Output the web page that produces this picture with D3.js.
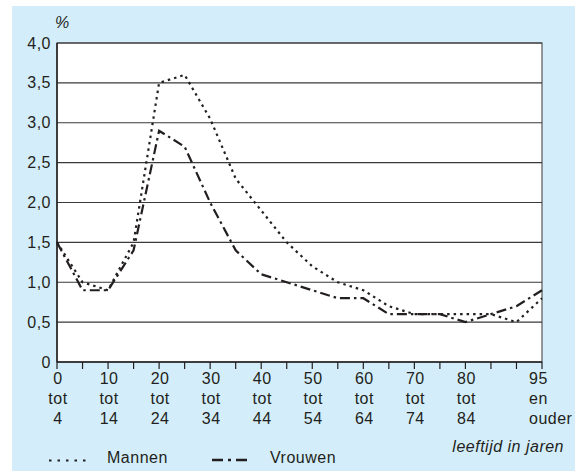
<!DOCTYPE html>
<html>
<head>
<meta charset="utf-8">
<script src="https://cdn.jsdelivr.net/npm/d3@7"></script>
<style>
  body { margin: 0; background: #fff; }
  text { font-family: "Liberation Sans", Arial, sans-serif; fill: #231f20; letter-spacing: 0.5px; }
</style>
</head>
<body>
<svg width="575" height="471"></svg>
<script>
// age groups (start of each 5-year band)
const ages = [0, 5, 10, 15, 20, 25, 30, 35, 40, 45, 50, 55, 60, 65, 70, 75, 80, 85, 90, 95];
const mannen  = [1.5, 1.0, 0.9, 1.5, 3.5, 3.6, 3.05, 2.3, 1.9, 1.5, 1.2, 1.0, 0.9, 0.7, 0.6, 0.6, 0.6, 0.6, 0.5, 0.8];
const vrouwen = [1.5, 0.9, 0.9, 1.4, 2.9, 2.7, 2.0, 1.4, 1.1, 1.0, 0.9, 0.8, 0.8, 0.6, 0.6, 0.6, 0.5, 0.6, 0.7, 0.9];
const xLabels = [
  { age: 0,  lines: ["0", "tot", "4"] },
  { age: 10, lines: ["10", "tot", "14"] },
  { age: 20, lines: ["20", "tot", "24"] },
  { age: 30, lines: ["30", "tot", "34"] },
  { age: 40, lines: ["40", "tot", "44"] },
  { age: 50, lines: ["50", "tot", "54"] },
  { age: 60, lines: ["60", "tot", "64"] },
  { age: 70, lines: ["70", "tot", "74"] },
  { age: 80, lines: ["80", "tot", "84"] },
  { age: 95, lines: ["95", "en", "ouder"] }
];
const yTicks = [0, 0.5, 1, 1.5, 2, 2.5, 3, 3.5, 4];

const svg = d3.select("svg");
const fs = 16;

// light blue panel
svg.append("rect")
  .attr("x", 12).attr("y", 6)
  .attr("width", 563).attr("height", 465)
  .attr("fill", "#d3eefa");

const x = d3.scaleLinear().domain([0, 95]).range([57, 542]);
const y = d3.scaleLinear().domain([0, 4]).range([362, 43]);

// plot area
svg.append("rect")
  .attr("x", x(0)).attr("y", y(4))
  .attr("width", x(95) - x(0)).attr("height", y(0) - y(4))
  .attr("fill", "#fff")
  .attr("stroke", "#555")
  .attr("stroke-width", 1.2);

// gridlines
svg.selectAll("line.grid")
  .data(yTicks.filter(d => d > 0))
  .enter().append("line")
  .attr("class", "grid")
  .attr("x1", x(0)).attr("x2", x(95))
  .attr("y1", d => y(d)).attr("y2", d => y(d))
  .attr("stroke", "#3a3a3a")
  .attr("stroke-width", 1.2);

// y labels
svg.selectAll("text.ylab")
  .data(yTicks)
  .enter().append("text")
  .attr("class", "ylab")
  .attr("x", 51)
  .attr("y", d => y(d) + 5.6)
  .attr("text-anchor", "end")
  .attr("font-size", fs)
  .text(d => d === 0 ? "0" : d3.format(".1f")(d).replace(".", ","));

svg.append("text")
  .attr("x", 55).attr("y", 28)
  .attr("font-size", fs)
  .attr("font-style", "italic")
  .text("%");

// axes lines
svg.append("line")
  .attr("x1", x(0)).attr("x2", x(0))
  .attr("y1", y(4)).attr("y2", y(0))
  .attr("stroke", "#231f20").attr("stroke-width", 1.5);
svg.append("line")
  .attr("x1", x(0)).attr("x2", x(95))
  .attr("y1", y(0)).attr("y2", y(0))
  .attr("stroke", "#231f20").attr("stroke-width", 1.5);

// ticks
svg.selectAll("line.tick")
  .data(ages)
  .enter().append("line")
  .attr("class", "tick")
  .attr("x1", d => x(d)).attr("x2", d => x(d))
  .attr("y1", y(0)).attr("y2", y(0) + 7)
  .attr("stroke", "#231f20").attr("stroke-width", 1.2);

// x labels
const xl = svg.selectAll("g.xlab")
  .data(xLabels)
  .enter().append("g")
  .attr("class", "xlab");
xl.each(function (d) {
  const g = d3.select(this);
  const last = d.age === 95;
  d.lines.forEach((t, i) => {
    g.append("text")
      .attr("x", last ? x(d.age) - 13 : x(d.age) + 1)
      .attr("y", 384 + i * 20)
      .attr("text-anchor", last ? "start" : "middle")
      .attr("font-size", fs)
      .text(t);
  });
});

svg.append("text")
  .attr("x", 564).attr("y", 452)
  .attr("text-anchor", "end")
  .attr("font-size", fs)
  .attr("font-style", "italic")
  .text("leeftijd in jaren");

// lines
const line = d3.line()
  .x((d, i) => x(ages[i]))
  .y(d => y(d));

svg.append("path")
  .datum(mannen)
  .attr("d", line)
  .attr("fill", "none")
  .attr("stroke", "#231f20")
  .attr("stroke-width", 2.2)
  .attr("stroke-dasharray", "2.5,4");

svg.append("path")
  .datum(vrouwen)
  .attr("d", line)
  .attr("fill", "none")
  .attr("stroke", "#231f20")
  .attr("stroke-width", 2.2)
  .attr("stroke-dasharray", "10,4,2.5,4");

// legend
svg.append("line")
  .attr("x1", 49).attr("x2", 89)
  .attr("y1", 460.5).attr("y2", 460.5)
  .attr("stroke", "#231f20")
  .attr("stroke-width", 2.2)
  .attr("stroke-dasharray", "2.5,6");
svg.append("text")
  .attr("x", 107).attr("y", 463)
  .attr("font-size", fs)
  .text("Mannen");

svg.append("line")
  .attr("x1", 212).attr("x2", 252)
  .attr("y1", 460).attr("y2", 460)
  .attr("stroke", "#231f20")
  .attr("stroke-width", 2.5)
  .attr("stroke-dasharray", "11,5,3,5");
svg.append("text")
  .attr("x", 270).attr("y", 463)
  .attr("font-size", fs)
  .text("Vrouwen");
</script>
</body>
</html>
